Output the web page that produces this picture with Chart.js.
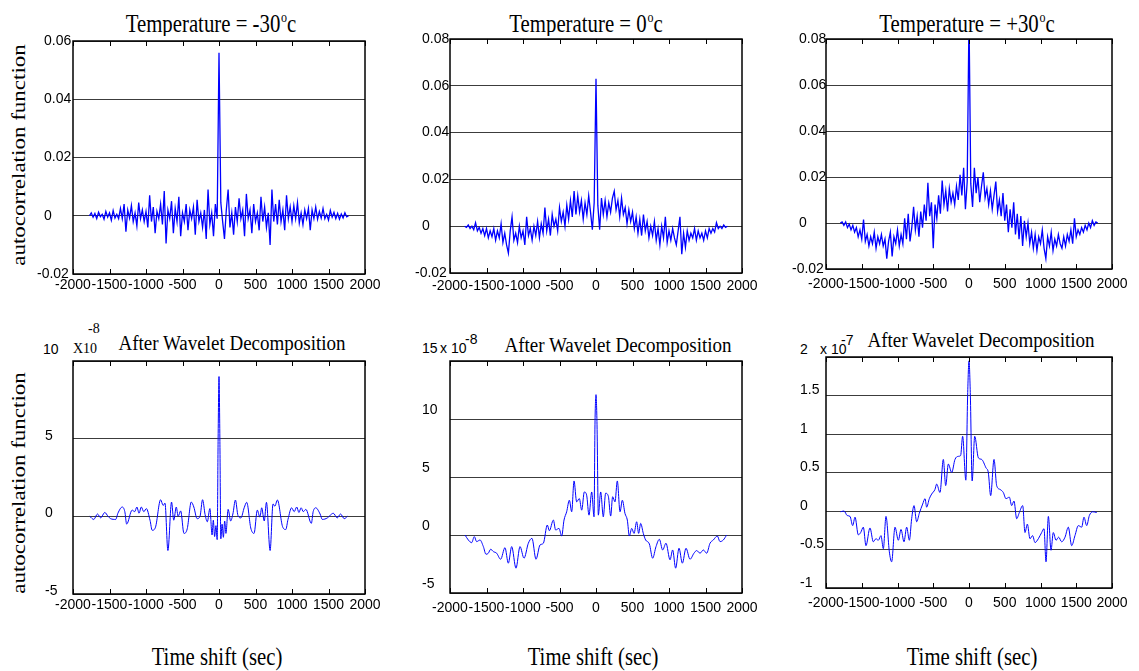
<!DOCTYPE html>
<html>
<head>
<meta charset="utf-8">
<script src="https://cdn.jsdelivr.net/npm/chart.js@4/dist/chart.umd.min.js"></script>
<style>
  body { margin: 0; background: #fff; }
  #page { position: relative; width: 1139px; height: 671px; overflow: hidden; background: #fff; }
  .panel { position: absolute; }
  .clip { position: absolute; left: 0; top: 0; width: 1139px; height: 36px; overflow: hidden; }
  .txt { position: absolute; white-space: nowrap; color: #000; }
  .serif { font-family: 'Liberation Serif', 'Times New Roman', serif; }
  .sans { font-family: 'Liberation Sans', Arial, sans-serif; }
  .title-top { font-size: 26px; line-height: 26px; top: 11px; transform: translateX(-50%) scaleX(0.8); }
  .title-bot { font-size: 20px; line-height: 20px; transform: translateX(-50%) scaleX(0.95); }
  .xlabel { font-size: 25px; line-height: 25px; top: 644px; transform: translateX(-50%) scaleX(0.83); }
  .ylabel { font-size: 23px; line-height: 23px; left: 19px; transform: translate(-50%, -50%) rotate(-90deg) scaleY(0.8); }
  .deg { font-size: 15px; position: relative; top: -10px; margin-left: 1px; }
  .exp { font-size: 14px; line-height: 14px; }
</style>
</head>
<body>
<div id="page">
  <div class="clip">
    <div class="txt serif title-top" style="left:211px">Temperature = -30<span class="deg">o</span>c</div>
    <div class="txt serif title-top" style="left:586px">Temperature = 0<span class="deg">o</span>c</div>
    <div class="txt serif title-top" style="left:967px">Temperature = +30<span class="deg">o</span>c</div>
  </div>

  <div class="txt serif title-bot" style="left:232px;top:333px">After Wavelet Decomposition</div>
  <div class="txt serif title-bot" style="left:618px;top:335px">After Wavelet Decomposition</div>
  <div class="txt serif title-bot" style="left:981px;top:330px">After Wavelet Decomposition</div>

  <div class="txt serif ylabel" style="top:155px">autocorrelation function</div>
  <div class="txt serif ylabel" style="top:483px">autocorrelation function</div>

  <div class="txt serif xlabel" style="left:217px">Time shift (sec)</div>
  <div class="txt serif xlabel" style="left:593px">Time shift (sec)</div>
  <div class="txt serif xlabel" style="left:972px">Time shift (sec)</div>

  <!-- axis multipliers of the wavelet panels -->
  <div class="txt sans exp" style="left:43px;top:342px">10</div>
  <div class="txt serif exp" style="left:73px;top:342px">X10</div>
  <div class="txt serif exp" style="left:88px;top:322px">-8</div>

  <div class="txt sans exp" style="left:422px;top:341px">15</div>
  <div class="txt sans exp" style="left:440px;top:341px">x 10</div>
  <div class="txt sans exp" style="left:465px;top:332px">-8</div>

  <div class="txt sans exp" style="left:800px;top:342px">2</div>
  <div class="txt sans exp" style="left:820px;top:342px">x 10</div>
  <div class="txt sans exp" style="left:841px;top:333px">-7</div>
</div>

<script>
// lag axis of the raw autocorrelations, one sample every 25 s
const lagsTop = [];
for (let lag = -1800; lag <= 1800; lag += 25) lagsTop.push(lag);

// raw autocorrelation, T = -30 C
const acfMinus30 = [
  null, 0, 0.001, -0.0005, 0.0008, -0.001, 0.0012, -0.0003,
  0.0005, -0.0012, 0.0015, -0.0005, 0.001, -0.0015, 0.0018, -0.0008,
  0.0005, -0.001, 0.0025, -0.001, 0.004, -0.0055, 0.002, -0.0008,
  0.0035, -0.002, 0.001, -0.0035, 0.0045, -0.001, 0.002, -0.002,
  0.0015, -0.004, 0.007, -0.002, 0.003, -0.006, 0.0015, -0.001,
  0.004, -0.003, 0.0085, -0.0095, 0.002, -0.001, 0.005, -0.006,
  0.0025, -0.002, 0.0065, -0.007, 0.001, -0.002, 0.004, -0.005,
  0.002, -0.001, 0.003, -0.0065, 0.0055, -0.002, 0.001, -0.004,
  0.002, -0.008, 0.009, -0.003, 0.001, -0.007, 0.004, -0.001,
  0.056,
  0.0045, -0.002, -0.008, 0.002, 0.009, -0.004, 0.001, -0.0065,
  0.003, -0.002, 0.006, -0.001, 0.002, -0.007, 0.0075, -0.001,
  0.002, -0.006, 0.004, -0.002, 0.001, -0.005, 0.0065, -0.002,
  0.003, -0.004, 0.001, -0.010, 0.009, -0.002, 0.004, -0.003,
  0.0055, -0.002, 0.002, -0.005, 0.007, -0.001, 0.003, -0.002,
  0.0035, -0.001, 0.0045, -0.0025, 0.001, -0.003, 0.002, -0.001,
  0.0025, -0.005, 0.002, -0.001, 0.003, -0.0012, 0.0015, -0.0008,
  0.0025, -0.001, 0.0005, -0.0015, 0.0018, -0.0005, 0.0012, -0.001,
  0.0008, -0.0012, 0.0006, -0.0008, 0.001, -0.0004, 0, null
];

// raw autocorrelation, T = 0 C
const acfZero = [
  0, -0.0005, 0.0005, -0.001, 0, -0.0015, 0.0015, -0.002,
  -0.0005, -0.003, -0.001, -0.004, -0.001, -0.005, -0.002, -0.0045,
  -0.001, -0.006, -0.002, -0.005, 0.001, -0.007, -0.003, -0.008,
  -0.0115, -0.002, 0.004, -0.006, -0.003, -0.007, 0, -0.005,
  -0.002, -0.008, 0.004, -0.004, -0.001, -0.006, 0, -0.004,
  0.002, -0.005, 0.001, -0.003, 0.008, -0.002, 0.003, -0.004,
  0.005, 0, 0.003, -0.002, 0.008, 0.002, 0.006, 0,
  0.009, 0.003, 0.011, 0.004, 0.015, 0.005, 0.013, 0.006,
  0.011, 0.003, 0.010, 0.005, 0.013, 0.006, -0.0015, 0.010,
  0.063,
  0.009, -0.0015, 0.012, 0.005, 0.011, 0.004, 0.010, 0.006,
  0.012, 0.015, 0.007, 0.011, 0.004, 0.012, 0.005, 0.008,
  0.001, 0.007, 0.002, 0.006, -0.001, 0.004, -0.003, 0.003,
  -0.004, 0.005, -0.002, 0.002, -0.005, 0, -0.004, 0.002,
  -0.006, -0.001, -0.008, 0, -0.005, 0.004, -0.007, -0.002,
  -0.006, -0.001, -0.005, -0.008, -0.002, 0.004, -0.012, -0.003,
  -0.009, -0.002, -0.006, -0.003, -0.005, -0.001, -0.006, -0.002,
  -0.005, -0.003, -0.006, -0.002, -0.005, -0.001, -0.003, -0.001,
  -0.0025, 0.0015, -0.001, 0, -0.001, 0.0005, -0.0005, 0
];

// raw autocorrelation, T = +30 C (central peak runs off the top)
const acfPlus30 = [
  0, 0.0005, -0.001, 0.0005, -0.002, -0.0005, -0.003, -0.001,
  -0.004, -0.002, -0.006, -0.003, -0.007, 0.0015, -0.008, -0.005,
  -0.010, -0.006, -0.009, -0.004, -0.011, -0.006, -0.009, -0.005,
  -0.010, -0.007, -0.0155, -0.008, -0.004, -0.0145, -0.006, -0.009,
  -0.003, -0.010, -0.005, -0.009, 0.002, -0.007, 0.004, -0.008,
  -0.002, 0.007, -0.003, 0.003, -0.006, 0.005, -0.002, 0.008,
  0.001, 0.0175, 0.003, 0.009, -0.011, 0.008, 0.002, 0.012,
  0.004, 0.0185, 0.008, 0.014, 0.005, 0.015, 0.009, 0.013,
  0.008, 0.016, 0.010, 0.021, 0.012, 0.024, 0.006, 0.018,
  0.09,
  0.017, 0.007, 0.024, 0.013, 0.020, 0.009, 0.016, 0.022,
  0.011, 0.015, 0.008, 0.014, 0.006, 0.012, 0.018, 0.005,
  0.010, 0.003, 0.013, 0.001, 0.008, -0.004, 0.006, -0.002,
  0.009, -0.005, 0.004, -0.007, 0.003, -0.010, 0.001, -0.006,
  0, -0.009, -0.004, -0.011, -0.005, -0.012, -0.006, -0.009,
  -0.003, -0.011, -0.0155, -0.006, -0.010, -0.004, -0.012, -0.007,
  -0.010, -0.005, -0.009, -0.011, -0.006, -0.010, -0.005, -0.008,
  -0.003, -0.009, 0.002, -0.006, -0.003, -0.005, -0.002, -0.004,
  -0.001, -0.003, 0, -0.002, 0.001, -0.001, 0.0005, 0
];

// after wavelet decomposition, T = -30 C  (units of 1e-8)
const lagsWavMinus30 = [
  -1770, -1715, -1665, -1620, -1565, -1520, -1485, -1415, -1385, -1325,
  -1290, -1265, -1190, -1155, -1125, -1095, -1065, -1030, -995, -945,
  -915, -870, -800, -765, -740, -700, -650, -620, -585, -560,
  -525, -480, -435, -380, -345, -300, -260, -225, -190, -160,
  -125, -95, -78, -60, -42, -25, -12, 0,
  12, 25, 42, 60, 78, 95, 125, 160, 190, 225,
  260, 300, 345, 380, 435, 480, 525, 560, 585, 620,
  650, 700, 740, 765, 800, 870, 915, 945, 995, 1030,
  1065, 1095, 1125, 1155, 1190, 1265, 1290, 1325, 1385, 1415,
  1485, 1520, 1565, 1620, 1665, 1715, 1760
];
const wavMinus30 = [
  0, -0.2, 0.15, -0.1, 0.25, 0, -0.15, -0.2, 0.2, 0.6,
  0.3, -0.5, 0.4, 0.3, 0.6, 0.2, 0.6, 0.3, 0.5, -0.25,
  -0.9, -0.7, 1.07, 0.7, 0.85, -2.2, 0.92, -0.25, 0.6, 0,
  0.35, -1.1, -0.8, 0.92, 0.6, -0.15, 0, 1.07, 0.1, -0.35,
  0.5, -1.2, -0.25, -1.3, -0.6, -1.5, 5, 9,
  5, -1.45, -0.5, -1.35, -0.3, -1.1, 0.45, -0.3, 0.15, 1.05,
  0.05, -0.1, 0.55, 0.9, -0.75, -1.1, 0.4, -0.05, 0.55, -0.3,
  0.9, -2.2, 0.8, 0.65, 1.05, -0.65, -0.85, -0.2, 0.55, 0.3,
  0.6, 0.25, 0.55, 0.3, 0.45, -0.45, 0.3, 0.55, 0.15, -0.2,
  -0.1, 0.05, 0.2, -0.1, 0.15, -0.15, 0
];

// after wavelet decomposition, T = 0 C  (units of 1e-8)
const lagsWavZero = [
  -1794, -1749, -1703, -1667, -1635, -1589, -1543, -1507, -1475, -1443,
  -1406, -1361, -1306, -1247, -1201, -1155, -1096, -1041, -986, -927,
  -877, -822, -767, -721, -667, -639, -584, -553, -507, -470,
  -438, -402, -365, -333, -301, -265, -228, -196, -160, -128,
  -96, -59, -27, -14, 0, 14,
  32, 64, 100, 132, 169, 201, 228, 260, 292, 329,
  361, 397, 429, 457, 489, 521, 557, 584, 612, 648,
  680, 731, 776, 822, 868, 913, 959, 1014, 1050, 1091,
  1137, 1183, 1233, 1288, 1342, 1379, 1425, 1470, 1516, 1562,
  1607, 1662, 1699, 1744, 1790
];
const wavZero = [
  0, -0.43, -0.66, -0.14, -0.57, -0.43, -1.0, -1.66, -1.57, -1.23,
  -1.43, -1.57, -2.09, -1.09, -2.43, -1.0, -2.86, -1.0, -2.0, -0.71,
  -0.29, -2.09, -0.86, -0.71, 0.86, 0.37, 1.29, 0.43, 0.57, -0.09,
  1.29, 2.0, 3.0, 2.0, 4.66, 2.86, 3.14, 2.14, 3.71, 3.43,
  1.71, 3.71, 1.57, 9.5, 12.1, 9.5,
  1.71, 3.71, 1.57, 3.6, 3.34, 1.63, 3.3, 2.86, 4.66, 2.0,
  3.0, 1.86, 1.29, -0.09, 0.57, 0.14, 1.14, 0.14, 1.0, 0.14,
  -0.43, -0.77, -2.0, -1.0, -0.37, -1.29, -0.71, -2.14, -1.29, -2.86,
  -1.14, -2.43, -1.14, -2.09, -1.57, -1.34, -1.57, -1.29, -1.57, -0.71,
  -0.43, -0.09, -0.57, -0.43, 0
];

// after wavelet decomposition, T = +30 C  (units of 1e-7)
const lagsWavPlus30 = [
  -1795, -1748, -1702, -1664, -1627, -1594, -1548, -1515, -1478, -1441,
  -1385, -1338, -1301, -1268, -1231, -1198, -1161, -1114, -1082, -1035,
  -988, -951, -909, -872, -834, -802, -769, -732, -695, -648,
  -615, -592, -555, -522, -476, -452, -406, -359, -326, -289,
  -242, -196, -149, -117, -89, -44, -19, 0, 19, 44,
  80, 131, 177, 238, 270, 303, 350, 387, 434, 480,
  517, 564, 597, 629, 667, 704, 751, 783, 816, 853,
  890, 923, 970, 1016, 1049, 1077, 1110, 1147, 1179, 1217,
  1254, 1296, 1343, 1389, 1436, 1482, 1529, 1576, 1608, 1646,
  1683, 1730, 1786
];
const wavPlus30 = [
  -0.01, 0, -0.06, -0.07, -0.19, -0.08, -0.31, -0.28, -0.21, -0.45,
  -0.22, -0.4, -0.36, -0.38, -0.32, -0.49, -0.07, -0.53, -0.66, -0.21,
  -0.38, -0.24, -0.4, -0.21, -0.38, -0.1, 0.07, -0.14, -0.03, 0.09,
  0.16, 0.05, 0.16, 0.22, 0.28, 0.35, 0.24, 0.67, 0.33, 0.61,
  0.5, 0.67, 0.71, 0.72, 0.97, 0.4, 1.5, 1.95, 1.5, 0.39,
  0.97, 0.69, 0.67, 0.56, 0.5, 0.2, 0.67, 0.33, 0.28, 0.24,
  0.16, 0.18, 0.07, 0.13, -0.1, -0.02, 0.07, -0.28, -0.17, -0.36,
  -0.32, -0.41, -0.36, -0.28, -0.23, -0.66, -0.07, -0.51, -0.28, -0.38,
  -0.34, -0.4, -0.34, -0.21, -0.45, -0.32, -0.19, -0.21, -0.08, -0.19,
  -0.06, -0.01, -0.02
];

// tick labels
const xTickLabels = ['-2000', '-1500', '-1000', '-500', '0', '500', '1000', '1500', '2000'];
const yTicksMinus30 = ['-0.02', '0', '0.02', '0.04', '0.06'];
const yTicksRaw = ['-0.02', '0', '0.02', '0.04', '0.06', '0.08'];
const yTicksWavMinus30 = ['-5', '0', '5', ''];
const yTicksWavZero = ['-5', '0', '5', '10', ''];
const yTicksWavPlus30 = ['-1', '-0.5', '0', '0.5', '1', '1.5', ''];

Chart.defaults.font.family = "'Liberation Sans', Arial, sans-serif";
Chart.defaults.color = '#000';

const PAD_TOP = 10;
const PAD_RIGHT = 30;
const AXIS_H = 26;

// box outline plus MATLAB-style inward x ticks on top and bottom edges
const frame = {
  id: 'frame',
  afterDraw(chart) {
    const { ctx, chartArea: a, scales: { x } } = chart;
    ctx.save();
    ctx.strokeStyle = '#000';
    ctx.lineWidth = 1;
    ctx.beginPath();
    x.ticks.forEach(t => {
      const px = Math.round(x.getPixelForValue(t.value)) + 0.5;
      ctx.moveTo(px, a.top);
      ctx.lineTo(px, a.top + 5);
      ctx.moveTo(px, a.bottom);
      ctx.lineTo(px, a.bottom - 5);
    });
    ctx.stroke();
    ctx.lineWidth = 1.5;
    ctx.strokeRect(a.left, a.top, a.right - a.left, a.bottom - a.top);
    ctx.restore();
  }
};

const panels = [
  { box: [73, 41, 365, 274], labelX: 37, hang: true, yMin: -0.02, yMax: 0.06, yStep: 0.02,
    yLabels: yTicksMinus30, yOffset: 0, xPad: 3, lags: lagsTop, values: acfMinus30, smooth: false, lw: 1.3 },
  { box: [450, 39, 742, 273], labelX: 415, hang: true, yMin: -0.02, yMax: 0.08, yStep: 0.02,
    yLabels: yTicksRaw, yOffset: 0, xPad: 5, lags: lagsTop, values: acfZero, smooth: false, lw: 1.3 },
  { box: [826, 39, 1112, 269], labelX: 792, hang: true, yMin: -0.02, yMax: 0.08, yStep: 0.02,
    yLabels: yTicksRaw, yOffset: 0, xPad: 7, lags: lagsTop, values: acfPlus30, smooth: false, lw: 1.3 },
  { box: [73, 361, 365, 594], labelX: 45, hang: false, yMin: -5, yMax: 10, yStep: 5,
    yLabels: yTicksWavMinus30, yOffset: -3, xPad: 3, lags: lagsWavMinus30, values: wavMinus30, smooth: true, lw: 1 },
  { box: [450, 361, 742, 593], labelX: 422, hang: false, yMin: -5, yMax: 15, yStep: 5,
    yLabels: yTicksWavZero, yOffset: -9, xPad: 7, lags: lagsWavZero, values: wavZero, smooth: true, lw: 1 },
  { box: [826, 357, 1112, 588], labelX: 800, hang: false, yMin: -1, yMax: 2, yStep: 0.5,
    yLabels: yTicksWavPlus30, yOffset: -5, xPad: 7, lags: lagsWavPlus30, values: wavPlus30, smooth: true, lw: 1 }
];

const page = document.getElementById('page');

panels.forEach(p => {
  const [boxL, boxT, boxR, boxB] = p.box;
  const left = p.labelX;
  const top = boxT - PAD_TOP;
  const wrap = document.createElement('div');
  wrap.className = 'panel';
  wrap.style.left = left + 'px';
  wrap.style.top = top + 'px';
  const canvas = document.createElement('canvas');
  canvas.width = boxR + PAD_RIGHT - left;
  canvas.height = boxB + AXIS_H - top;
  wrap.appendChild(canvas);
  page.appendChild(wrap);

  const points = p.lags.map((lag, i) => ({ x: lag, y: p.values[i] }));

  new Chart(canvas, {
    type: 'line',
    data: {
      datasets: [{
        data: points,
        borderColor: '#0000ff',
        borderWidth: p.lw,
        pointRadius: 0,
        tension: 0,
        cubicInterpolationMode: p.smooth ? 'monotone' : 'default',
        clip: 0
      }]
    },
    options: {
      responsive: false,
      animation: false,
      events: [],
      layout: { padding: { top: PAD_TOP, right: PAD_RIGHT, left: 0, bottom: 0 } },
      plugins: { legend: { display: false }, tooltip: { enabled: false } },
      scales: {
        x: {
          type: 'linear',
          min: -2000,
          max: 2000,
          grid: { display: false, drawTicks: false },
          border: { display: false },
          ticks: {
            stepSize: 500,
            autoSkip: false,
            maxRotation: 0,
            padding: p.xPad,
            font: { size: 14 },
            callback: (v, i) => xTickLabels[i]
          },
          afterFit: s => { s.height = AXIS_H; }
        },
        y: {
          min: p.yMin,
          max: p.yMax,
          grid: { color: '#3c3c3c', lineWidth: 1, drawTicks: false },
          border: { display: false },
          ticks: {
            stepSize: p.yStep,
            crossAlign: 'far',
            padding: 0,
            labelOffset: p.yOffset,
            font: { size: 14 },
            callback: (v, i) => {
              const s = p.yLabels[i];
              return (p.hang && s !== '' && s[0] !== '-') ? '\u2002' + s : s;
            }
          },
          afterFit: s => { s.width = boxL - left; }
        }
      }
    },
    plugins: [frame]
  });
});
</script>
</body>
</html>
